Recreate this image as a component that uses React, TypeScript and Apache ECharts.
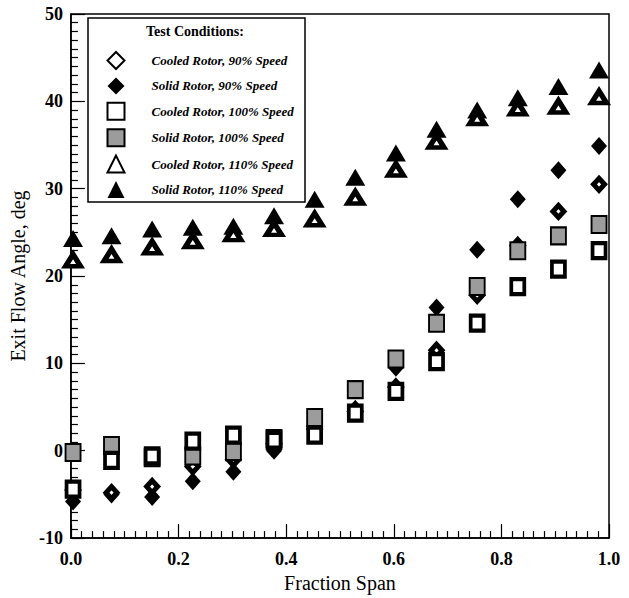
import React, { useEffect, useRef } from "react";
import * as echarts from "echarts";

const spans = [0.004, 0.0755, 0.151, 0.2265, 0.302, 0.3775, 0.453, 0.5285, 0.604, 0.6795, 0.755, 0.8305, 0.906, 0.9815];
const cooled90 = [-4.5, -4.8, -4.1, -1.8, -1.0, 0.8, 2.5, 4.5, 7.3, 11.5, 17.8, 23.5, 27.4, 30.5];
const solid90 = [-5.8, -5.0, -5.3, -3.5, -2.4, 0.0, 3.0, 4.8, 9.5, 16.4, 23.0, 28.8, 32.1, 34.9];
const cooled100 = [-4.4, -1.1, -0.6, 1.1, 1.8, 1.2, 1.8, 4.3, 6.8, 10.2, 14.6, 18.8, 20.8, 22.9];
const solid100 = [-0.2, 0.6, -0.8, -0.6, -0.1, 1.4, 3.8, 7.0, 10.5, 14.6, 18.8, 22.9, 24.6, 25.9];
const cooled110 = [21.8, 22.4, 23.3, 24.0, 24.8, 25.4, 26.5, 29.0, 32.2, 35.4, 38.1, 39.2, 39.4, 40.5];
const solid110 = [24.3, 24.6, 25.4, 25.6, 25.7, 26.9, 28.8, 31.3, 34.1, 36.8, 39.0, 40.4, 41.7, 43.6];

const seriesNames = [
  "Cooled Rotor, 90% Speed",
  "Solid Rotor, 90% Speed",
  "Cooled Rotor, 100% Speed",
  "Solid Rotor, 100% Speed",
  "Cooled Rotor, 110% Speed",
  "Solid Rotor, 110% Speed",
];
const legendTitle = "Test Conditions:";
const xTitle = "Fraction Span";
const yTitle = "Exit Flow Angle, deg";

const pair = (ys: number[]) => ys.map((y, i) => [spans[i], y]);

export default function App() {
  const ref = useRef<HTMLDivElement>(null);
  useEffect(() => {
    if (!ref.current) return;
    const chart = echarts.init(ref.current, null, { renderer: "svg" });
    const serif = "'Liberation Serif', 'DejaVu Serif', serif";
    const mk = (name: string, ys: number[], symbol: string, size: number[], color: string, bw: number, z: number) => ({
      type: "scatter",
      name,
      data: pair(ys),
      symbol,
      symbolSize: size,
      z,
      itemStyle: { color, borderColor: "#000", borderWidth: bw, opacity: 1 },
    });
    const tickStyle = { color: "#000", width: 1.2 };
    chart.setOption({
      animation: false,
      backgroundColor: "#fff",
      grid: {
        left: 68,
        right: 20,
        top: 14,
        bottom: 56,
        show: true,
        borderColor: "#000",
        borderWidth: 1.5,
        backgroundColor: "transparent",
      },
      xAxis: {
        type: "value",
        min: 0,
        max: 1,
        interval: 0.2,
        name: xTitle,
        nameLocation: "middle",
        nameGap: 27,
        nameTextStyle: { fontFamily: serif, fontSize: 20, color: "#000" },
        axisLine: { show: true, onZero: false, lineStyle: { color: "#000", width: 1.5 } },
        axisTick: { show: true, inside: true, length: 14, lineStyle: tickStyle },
        minorTick: { show: true, splitNumber: 10, length: 7, lineStyle: tickStyle },
        splitLine: { show: false },
        axisLabel: {
          margin: 12,
          fontFamily: serif,
          fontWeight: "bold",
          fontSize: 18,
          color: "#000",
          formatter: (v: number) => v.toFixed(1),
        },
      },
      yAxis: {
        type: "value",
        min: -10,
        max: 50,
        interval: 10,
        name: yTitle,
        nameLocation: "middle",
        nameGap: 31,
        nameTextStyle: { fontFamily: serif, fontSize: 20, color: "#000" },
        axisLine: { show: true, onZero: false, lineStyle: { color: "#000", width: 1.5 } },
        axisTick: { show: true, inside: true, length: 14, lineStyle: tickStyle },
        minorTick: { show: true, splitNumber: 10, length: 7, lineStyle: tickStyle },
        splitLine: { show: false },
        axisLabel: {
          margin: 8,
          fontFamily: serif,
          fontWeight: "bold",
          fontSize: 18,
          color: "#000",
        },
      },
      legend: {
        orient: "vertical",
        left: 101.5,
        top: 46,
        itemWidth: 17,
        itemHeight: 17,
        itemGap: 7.4,
        data: seriesNames,
        textStyle: {
          fontFamily: serif,
          fontStyle: "italic",
          fontWeight: "bold",
          fontSize: 13,
          color: "#000",
          padding: [0, 0, 0, 22],
        },
        z: 6,
      },
      graphic: [
        {
          type: "rect",
          shape: { x: 88, y: 18, width: 217, height: 184 },
          style: { fill: "#fff", stroke: "#000", lineWidth: 1.5 },
          z: 5,
        },
        {
          type: "text",
          x: 195,
          y: 31,
          style: {
            text: legendTitle,
            font: "bold 14px 'Liberation Serif', serif",
            fill: "#000",
            textAlign: "center",
            textVerticalAlign: "middle",
          },
          z: 6,
        },
      ],
      series: [
        mk(seriesNames[1], solid90, "diamond", [16, 18], "#000", 0, 2),
        mk(seriesNames[0], cooled90, "diamond", [11, 12], "#fff", 5, 3),
        mk(seriesNames[3], solid100, "rect", [15, 17], "#9c9c9c", 2, 4),
        mk(seriesNames[2], cooled100, "rect", [13, 15], "#fff", 4, 5),
        mk(seriesNames[5], solid110, "triangle", [20, 17], "#000", 0, 6),
        mk(seriesNames[4], cooled110, "triangle", [15, 12], "#fff", 5, 7),
      ],
    });
    return () => chart.dispose();
  }, []);
  return <div ref={ref} style={{ width: 629, height: 598, position: "absolute", left: 0, top: 0 }} />;
}
